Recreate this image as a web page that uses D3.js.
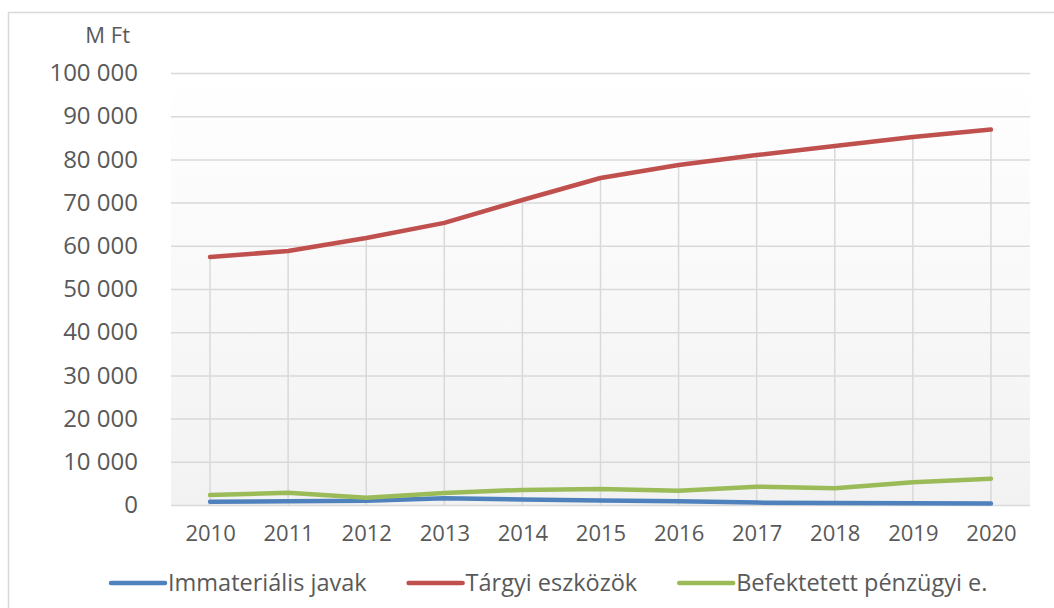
<!DOCTYPE html>
<html>
<head>
<meta charset="utf-8">
<script src="https://cdn.jsdelivr.net/npm/d3@7"></script>
<style>
  body { margin: 0; background: #fff; }
  svg text { font-family: "Open Sans", sans-serif; fill: #595959; }
</style>
</head>
<body>
<div id="chart"></div>
<script>
// chart values
let years = ['2010', '2011', '2012', '2013', '2014', '2015', '2016', '2017', '2018', '2019', '2020'];
let immaterialis = [770, 850, 1000, 1550, 1300, 1050, 850, 550, 450, 400, 350];
let targyi = [57400, 58800, 61800, 65300, 70600, 75700, 78700, 81000, 83100, 85200, 86900];
let befektetett = [2300, 2850, 1700, 2800, 3500, 3700, 3300, 4250, 3850, 5250, 6100];
let yTicks = [0, 10000, 20000, 30000, 40000, 50000, 60000, 70000, 80000, 90000, 100000];

let series = [
  { name: 'Immateriális javak', values: immaterialis, color: '#4f81bd' },
  { name: 'Tárgyi eszközök', values: targyi, color: '#c0504d' },
  { name: 'Befektetett pénzügyi e.', values: befektetett, color: '#9bbb59' }
];

let width = 1054;
let height = 608;
let plot = { left: 171, right: 1030, top: 73, bottom: 505 };

let svg = d3.select('#chart').append('svg')
  .attr('width', width)
  .attr('height', height);

// outer chart frame
svg.append('rect')
  .attr('x', 8.5).attr('y', 12.5)
  .attr('width', width).attr('height', height)
  .attr('fill', '#fff')
  .attr('stroke', '#d9d9d9')
  .attr('stroke-width', 1.5);

let x = d3.scalePoint()
  .domain(years)
  .range([plot.left, plot.right])
  .padding(0.5);

let y = d3.scaleLinear()
  .domain([0, 100000])
  .range([plot.bottom, plot.top]);

// plot area gradient
let grad = svg.append('defs').append('linearGradient')
  .attr('id', 'bg')
  .attr('x1', 0).attr('y1', 0).attr('x2', 0).attr('y2', 1);
grad.append('stop').attr('offset', '0%').attr('stop-color', '#ffffff');
grad.append('stop').attr('offset', '100%').attr('stop-color', '#f2f2f2');

svg.append('rect')
  .attr('x', plot.left).attr('y', plot.top)
  .attr('width', plot.right - plot.left)
  .attr('height', plot.bottom - plot.top)
  .attr('fill', 'url(#bg)');

// horizontal gridlines + y labels
let fmt = v => d3.format(',')(v).replace(/,/g, ' ');

let yAxis = d3.axisLeft(y)
  .tickValues(yTicks)
  .tickSize(-(plot.right - plot.left))
  .tickPadding(33)
  .tickFormat(fmt);

let yg = svg.append('g')
  .attr('transform', `translate(${plot.left},0)`)
  .call(yAxis);
yg.select('.domain').remove();
yg.selectAll('.tick line').attr('stroke', '#d9d9d9').attr('stroke-width', 1.5);
yg.selectAll('.tick text')
  .attr('font-size', 24)
  .attr('font-family', '"Open Sans", sans-serif')
  .attr('fill', '#595959');

// drop lines from the highest series down to the axis
svg.append('g')
  .selectAll('line')
  .data(years)
  .enter()
  .append('line')
  .attr('x1', d => x(d)).attr('x2', d => x(d))
  .attr('y1', (d, i) => y(d3.max(series, s => s.values[i])))
  .attr('y2', plot.bottom)
  .attr('stroke', '#d9d9d9')
  .attr('stroke-width', 1.5);

// x axis labels
let xAxis = d3.axisBottom(x).tickSize(0).tickPadding(20);
let xg = svg.append('g')
  .attr('transform', `translate(0,${plot.bottom})`)
  .call(xAxis);
xg.select('.domain').remove();
xg.selectAll('.tick text')
  .attr('font-size', 22)
  .attr('font-family', '"Open Sans", sans-serif')
  .attr('fill', '#595959');

// axis title
svg.append('text')
  .attr('x', 130).attr('y', 35)
  .attr('dy', '0.35em')
  .attr('text-anchor', 'end')
  .attr('font-size', 22)
  .text('M Ft');

// series lines
let line = d3.line()
  .x((d, i) => x(years[i]))
  .y(d => y(d));

svg.append('g')
  .selectAll('path')
  .data(series)
  .enter()
  .append('path')
  .attr('d', s => line(s.values))
  .attr('fill', 'none')
  .attr('stroke', s => s.color)
  .attr('stroke-width', 4.5)
  .attr('stroke-linecap', 'round')
  .attr('stroke-linejoin', 'round');

// legend
let legend = svg.append('g');
let lx = 111;
let ly = 583;
series.forEach(s => {
  legend.append('line')
    .attr('x1', lx).attr('x2', lx + 54)
    .attr('y1', ly).attr('y2', ly)
    .attr('stroke', s.color)
    .attr('stroke-width', 4.5)
    .attr('stroke-linecap', 'round');
  let t = legend.append('text')
    .attr('x', lx + 57).attr('y', ly)
    .attr('dy', '0.35em')
    .attr('font-size', 23.5)
    .text(s.name);
  lx += 57 + t.node().getComputedTextLength() + 42;
});
</script>
</body>
</html>
